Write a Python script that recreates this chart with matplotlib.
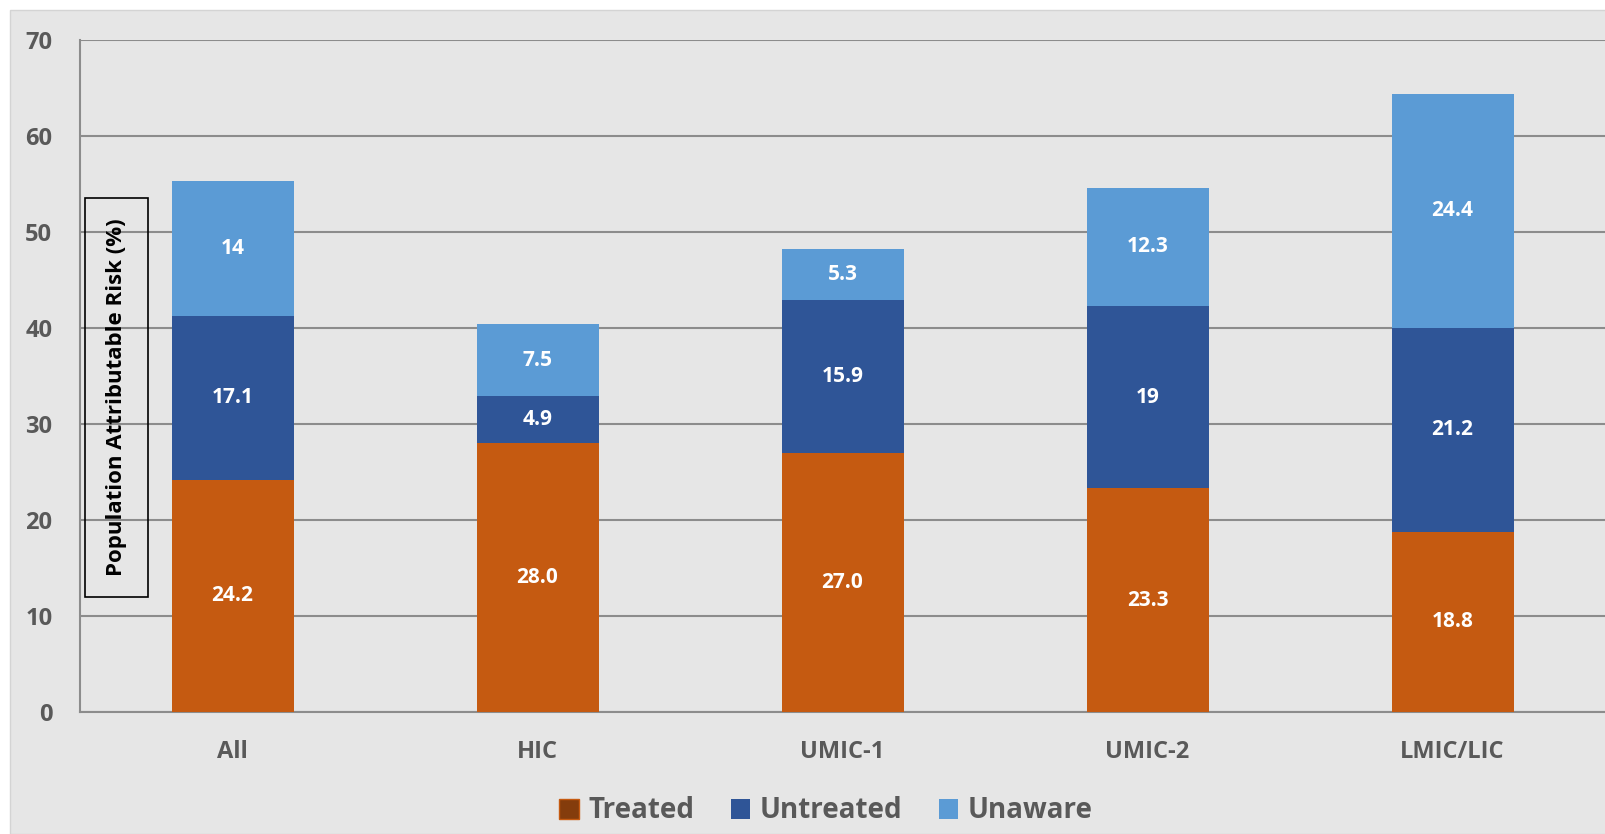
import matplotlib.pyplot as plt
from matplotlib.patches import Patch, Rectangle

plt.rcParams['font.family'] = ['Open Sans', 'DejaVu Sans']

categories = ['All', 'HIC', 'UMIC-1', 'UMIC-2', 'LMIC/LIC']
treated = [24.2, 28.0, 27.0, 23.3, 18.8]
untreated = [17.1, 4.9, 15.9, 19, 21.2]
unaware = [14, 7.5, 5.3, 12.3, 24.4]
treated_lbl = ['24.2', '28.0', '27.0', '23.3', '18.8']
untreated_lbl = ['17.1', '4.9', '15.9', '19', '21.2']
unaware_lbl = ['14', '7.5', '5.3', '12.3', '24.4']
series_names = ['Treated', 'Untreated', 'Unaware']

c_treat = '#c55a11'
c_untreat = '#2f5597'
c_unaware = '#5b9bd5'
bg = '#e6e6e6'
txt = '#595959'

fig = plt.figure(figsize=(16.05, 8.34), dpi=100)
fig.patch.set_facecolor('white')
fig.patches.append(Rectangle((10 / 1605, 0), 1, 1 - 10 / 834, transform=fig.transFigure,
                             facecolor=bg, edgecolor='#d4d4d4', lw=1, zorder=-10))

ax = fig.add_axes([80 / 1605, 1 - 712 / 834, 1 - 80 / 1605, (712 - 40) / 834])
ax.set_facecolor(bg)

x = range(len(categories))
w = 0.4
bottom2 = [a + b for a, b in zip(treated, untreated)]
b1 = ax.bar(x, treated, w, color=c_treat, zorder=3)
b2 = ax.bar(x, untreated, w, bottom=treated, color=c_untreat, zorder=3)
b3 = ax.bar(x, unaware, w, bottom=bottom2, color=c_unaware, zorder=3)

for bars, lbls in [(b1, treated_lbl), (b2, untreated_lbl), (b3, unaware_lbl)]:
    ax.bar_label(bars, labels=lbls, label_type='center', color='white',
                 fontsize=15, fontweight='bold', zorder=4)

ax.set_xlim(-0.5, len(categories) - 0.5)
ax.set_ylim(0, 70)
ax.set_yticks(range(0, 71, 10))
ax.set_xticks(list(x))
ax.set_xticklabels(categories)
ax.yaxis.grid(True, color='#8c8c8c', lw=1.5, zorder=0)
ax.set_axisbelow(True)
for s in ['top', 'right']:
    ax.spines[s].set_visible(False)
for s in ['left', 'bottom']:
    ax.spines[s].set_color('#8c8c8c')
    ax.spines[s].set_linewidth(1.5)
ax.tick_params(axis='both', length=0, labelsize=17, labelcolor=txt)
ax.tick_params(axis='y', pad=20)
ax.tick_params(axis='x', pad=20)
for lab in ax.get_xticklabels() + ax.get_yticklabels():
    lab.set_fontweight('bold')

fig.text(116.5 / 1605, 1 - 397.5 / 834, 'Population Attributable Risk (%)',
         rotation=90, ha='center', va='center', fontsize=16, fontweight='bold',
         color='black',
         bbox=dict(boxstyle='square,pad=0.95', facecolor='none', edgecolor='black', lw=1.2))

handles = [Patch(facecolor='#843c0c', edgecolor=c_treat),
           Patch(facecolor=c_untreat), Patch(facecolor=c_unaware)]
leg = fig.legend(handles, series_names, loc='center', bbox_to_anchor=(826 / 1605, 1 - 811 / 834),
                 ncol=3, frameon=False, handlelength=0.7, handleheight=0.7,
                 handletextpad=0.35, columnspacing=1.3,
                 prop={'size': 20, 'weight': 'bold'})
for t in leg.get_texts():
    t.set_color(txt)

fig.savefig('out.png', dpi=100, facecolor=fig.get_facecolor())
